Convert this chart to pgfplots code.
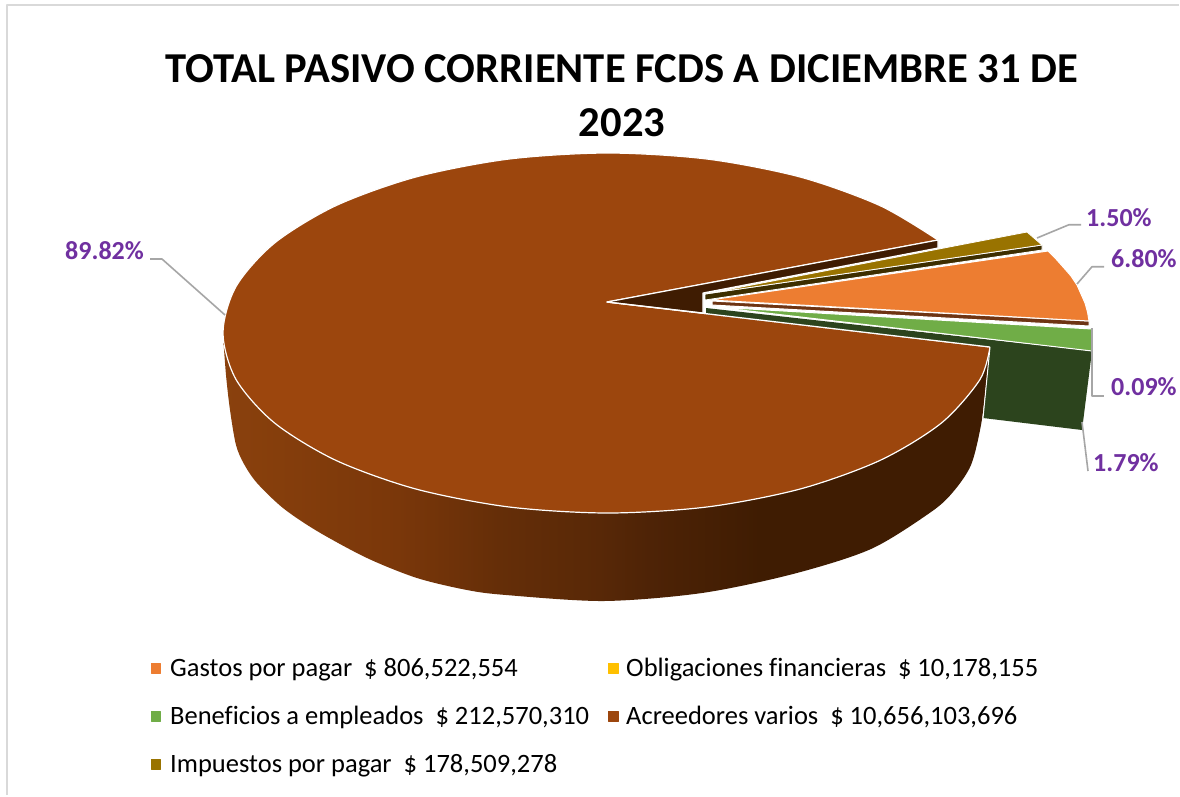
\documentclass[border=0pt]{standalone}
\usepackage{pgfplots}
\pgfplotsset{compat=1.18}
\usepackage{fontspec}
\setmainfont[Ligatures=NoCommon]{Carlito}
\definecolor{brtop}{HTML}{9C460D}
\definecolor{brdark}{HTML}{3F1C02}
\definecolor{orangeT}{HTML}{ED7D31}
\definecolor{orangeS}{HTML}{6E3413}
\definecolor{greenT}{HTML}{70AD47}
\definecolor{greenS}{HTML}{2C441D}
\definecolor{oliveT}{HTML}{997300}
\definecolor{oliveS}{HTML}{3D2E00}
\definecolor{yellowT}{HTML}{FFC000}
\definecolor{lab}{HTML}{7030A0}
\definecolor{lead}{HTML}{A6A6A6}
\definecolor{frameC}{HTML}{D9D9D9}
\definecolor{wA}{HTML}{8A410D}
\definecolor{wB}{HTML}{7A370A}
\definecolor{wC}{HTML}{652E08}
\definecolor{wD}{HTML}{582807}
\definecolor{wE}{HTML}{4E2306}
\definecolor{wF}{HTML}{3F1C02}
\pgfdeclarehorizontalshading{wallshade}{100bp}{
 color(0bp)=(wA);
 color(25bp)=(wA);
 color(36.4bp)=(wB);
 color(43bp)=(wC);
 color(49.5bp)=(wD);
 color(52.8bp)=(wE);
 color(60bp)=(wF);
 color(75bp)=(wF);
 color(100bp)=(wF)}
\begin{document}
\begin{tikzpicture}
\begin{axis}[
  scale only axis, width=1180pt, height=796pt,
  xmin=0, xmax=1180, ymin=0, ymax=796, y dir=reverse,
  hide axis, clip=false,
  every axis plot/.append style={line join=round}]
% canvas and frame
\addplot[draw=none, fill=white] coordinates {(0,0)(1180,0)(1180,796)(0,796)} --cycle;
\addplot[frameC, line width=1.5pt] coordinates {(7,795)(7,5)(1179,5)};
% wall of the large slice
\addplot[draw=none, shade, shading=wallshade, smooth] coordinates {
 (990,347)(986,385)(981,425)(971,465)(953,492)(931,512)(871,549)(793,574)(702,593)(604,601)(506,595)(467,590)(417,578)(367,558)(317,531)(283,508)(257,483)(244,464)(236,445)(230,410)(226,375)(223,335)} --cycle;
% top of the large slice
\addplot[fill=brtop, draw=white, line width=1.2pt, smooth] coordinates {
 (938,240)(880.2,205.7)(800.5,177.1)(707.6,159.1)(608,153)(508.4,159.1)(415.5,177.1)(335.8,205.7)(274.6,243)(236.1,286.4)(223,333)
 (236.1,379.6)(274.6,423)(335.8,460.3)(415.5,488.9)(508.4,506.9)(608,513)(707.6,506.9)(800.5,488.9)(880.2,460.3)(941.4,423)(979.9,379.6)(990,347)} --cycle;
% notch
\addplot[fill=white, draw=white, line width=1.2pt] coordinates {(607,302)(938,240)(990,347)} --cycle;
\addplot[fill=brdark, draw=white, line width=1.2pt] coordinates {(607,302)(938,240)(938,248)(703,293)(703,313)} --cycle;
% Beneficios
\addplot[fill=greenS, draw=none] coordinates {(706,308)(1092,351)(1082,430)(983,418)(990,347)(706,314)} --cycle;
\addplot[fill=greenT, draw=white, line width=1pt] coordinates {(715,307)(1092,329)(1092,351)} --cycle;
\addplot[white, line width=1.2pt] coordinates {(607,302)(990,347)};
\addplot[white, line width=1pt] coordinates {(990,347)(983,418)};
% Gastos
\addplot[fill=orangeS, draw=white, line width=1pt] coordinates {(712,301)(1089,321)(1089,326)(712,305)} --cycle;
\addplot[fill=orangeT, draw=white, line width=1pt] coordinates {(710,300)(1048,251)(1056,259)(1064,268)(1071,276)(1077,285)(1081,294)(1085,303)(1087.5,312)(1089,321)} --cycle;
% Impuestos
\addplot[fill=oliveS, draw=white, line width=.8pt] coordinates {(705,294)(1042,245)(1042,250)(705,300)} --cycle;
\addplot[fill=oliveT, draw=white, line width=.8pt] coordinates {(705,294)(1027,232)(1042,245)} --cycle;
% leader lines
\addplot[lead, line width=1.6pt] coordinates {(150,259)(162,259)(225,315)};
\addplot[lead, line width=1.6pt] coordinates {(1037,238)(1069,224.7)(1081,224.7)};
\addplot[lead, line width=1.6pt] coordinates {(1077,284)(1092,266.7)(1104,266.7)};
\addplot[lead, line width=1.6pt] coordinates {(1092,328)(1092,395.7)(1104,395.7)};
\addplot[lead, line width=1.6pt] coordinates {(1082,422)(1088,471)};
% legend keys
\addplot[only marks, mark=square*, mark size=4.7pt, mark options={draw=orangeT, fill=orangeT}] coordinates {(155.5,668)};
\addplot[only marks, mark=square*, mark size=4.7pt, mark options={draw=greenT, fill=greenT}] coordinates {(155.5,716)};
\addplot[only marks, mark=square*, mark size=4.7pt, mark options={draw=oliveT, fill=oliveT}] coordinates {(155.5,764)};
\addplot[only marks, mark=square*, mark size=4.7pt, mark options={draw=yellowT, fill=yellowT}] coordinates {(613,668)};
\addplot[only marks, mark=square*, mark size=4.7pt, mark options={draw=brtop, fill=brtop}] coordinates {(613,716)};
% title
\node[anchor=base, inner sep=0pt, font=\fontsize{42.6}{48}\selectfont\bfseries] at (622,82) {TOTAL PASIVO CORRIENTE FCDS A DICIEMBRE 31 DE};
\node[anchor=base, inner sep=0pt, font=\fontsize{42.6}{48}\selectfont\bfseries] at (622,136) {2023};
% data labels
\tikzset{dl/.style={anchor=base west, inner sep=0pt, text=lab, font=\fontsize{26}{30}\selectfont\bfseries}}
\node[dl] at (65,259) {89.82\%};
\node[dl] at (1086,226) {1.50\%};
\node[dl] at (1111,267) {6.80\%};
\node[dl] at (1111,395) {0.09\%};
\node[dl] at (1093,471) {1.79\%};
% legend text
\tikzset{lg/.style={anchor=base west, inner sep=0pt, font=\fontsize{26.5}{30}\selectfont}}
\node[lg] at (170,676) {Gastos por pagar\ \ \$ 806,522,554};
\node[lg] at (170,724) {Beneficios a empleados\ \ \$ 212,570,310};
\node[lg] at (170,772) {Impuestos por pagar\ \ \$ 178,509,278};
\node[lg] at (626,676) {Obligaciones financieras\ \ \$ 10,178,155};
\node[lg] at (626,724) {Acreedores varios\ \ \$ 10,656,103,696};
\end{axis}
\end{tikzpicture}
\end{document}
